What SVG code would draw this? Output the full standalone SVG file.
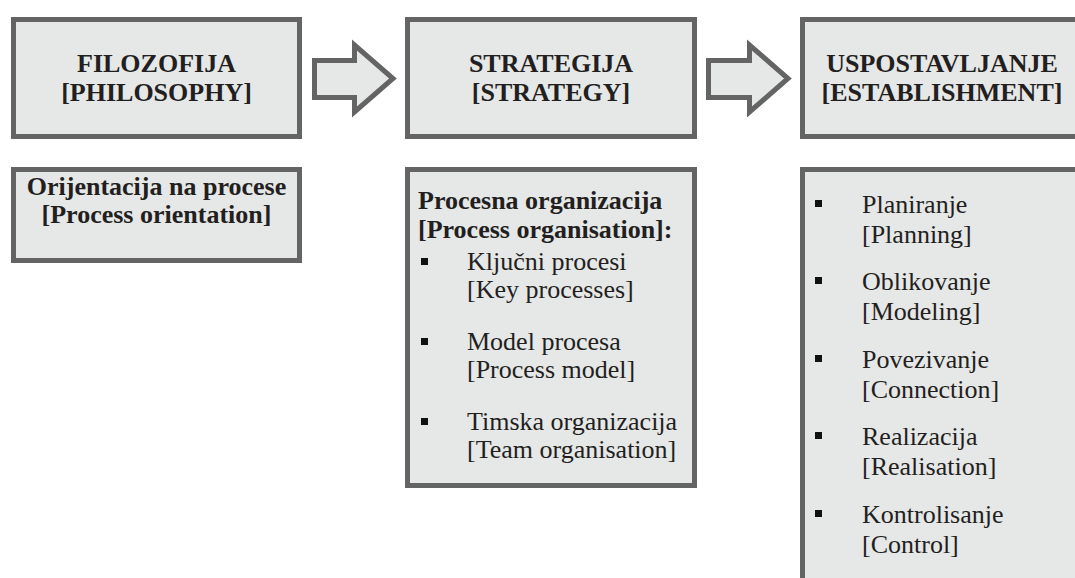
<svg xmlns="http://www.w3.org/2000/svg" width="1075" height="578" viewBox="0 0 1075 578">
<style>
.box{fill:#e6e7e7;stroke:#646464;stroke-width:5}
.arr{fill:#e6e7e7;stroke:#646464;stroke-width:5;stroke-linejoin:miter}
text{font-family:"Liberation Serif","Times New Roman",serif;fill:#231f20;font-size:26px}
.b{font-weight:bold}
.c{text-anchor:middle}
.bul{fill:#111}
</style>
<rect width="1075" height="578" fill="#fff"/>
<g id="connectors">
<polygon class="arr" points="314.5,60.5 354.5,60.5 354.5,45 393,78.5 354.5,112 354.5,97.5 314.5,97.5"/>
<polygon class="arr" points="708.5,60.5 749.5,60.5 749.5,45 788,78.5 749.5,112 749.5,97.5 708.5,97.5"/>
</g>
<g id="philosophy">
<rect class="box" x="13.5" y="19.5" width="286" height="117"/>
<text class="b c" x="156.5" y="72">FILOZOFIJA</text>
<text class="b c" x="156.5" y="101">[PHILOSOPHY]</text>
</g>
<g id="strategy">
<rect class="box" x="407.5" y="19.5" width="287" height="117"/>
<text class="b c" x="551" y="72">STRATEGIJA</text>
<text class="b c" x="551" y="101">[STRATEGY]</text>
</g>
<g id="establishment">
<rect class="box" x="802.5" y="19.5" width="300" height="117"/>
<text class="b c" x="942" y="72">USPOSTAVLJANJE</text>
<text class="b c" x="942" y="101">[ESTABLISHMENT]</text>
</g>
<g id="orientation">
<rect class="box" x="13.5" y="169.5" width="286" height="91"/>
<text class="b c" x="156.5" y="195">Orijentacija na procese</text>
<text class="b c" x="156.5" y="223">[Process orientation]</text>
</g>
<g id="organisation">
<rect class="box" x="407.5" y="169.5" width="287" height="316"/>
<text class="b" x="418" y="209">Procesna organizacija</text>
<text class="b" x="418" y="238">[Process organisation]:</text>
<rect class="bul" x="421" y="258" width="7" height="7"/>
<text x="467" y="270">Ključni procesi</text>
<text x="467" y="298">[Key processes]</text>
<rect class="bul" x="421" y="338" width="7" height="7"/>
<text x="467" y="350">Model procesa</text>
<text x="467" y="378">[Process model]</text>
<rect class="bul" x="421" y="418" width="7" height="7"/>
<text x="467" y="430">Timska organizacija</text>
<text x="467" y="458">[Team organisation]</text>
</g>
<g id="steps">
<rect class="box" x="802.5" y="169.5" width="300" height="450"/>
<rect class="bul" x="815" y="200" width="7" height="7"/>
<text x="862" y="213">Planiranje</text>
<text x="862" y="243">[Planning]</text>
<rect class="bul" x="815" y="277" width="7" height="7"/>
<text x="862" y="290">Oblikovanje</text>
<text x="862" y="320">[Modeling]</text>
<rect class="bul" x="815" y="355" width="7" height="7"/>
<text x="862" y="368">Povezivanje</text>
<text x="862" y="398">[Connection]</text>
<rect class="bul" x="815" y="432" width="7" height="7"/>
<text x="862" y="445">Realizacija</text>
<text x="862" y="475">[Realisation]</text>
<rect class="bul" x="815" y="510" width="7" height="7"/>
<text x="862" y="523">Kontrolisanje</text>
<text x="862" y="553">[Control]</text>
</g>
</svg>
